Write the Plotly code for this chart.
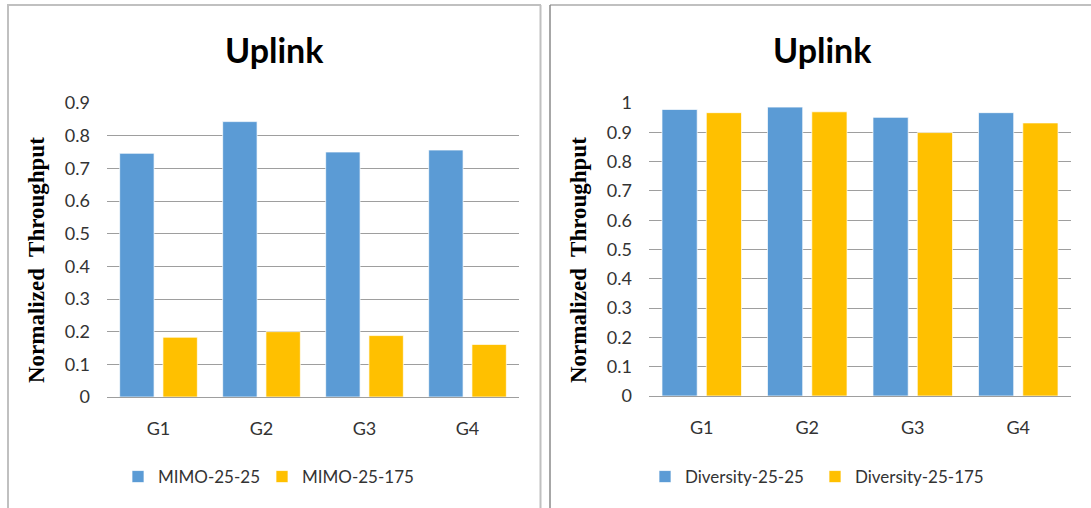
import plotly.graph_objects as go

# Data
groups = ["G1", "G2", "G3", "G4"]
mimo_25_25 = [0.746, 0.843, 0.750, 0.756]
mimo_25_175 = [0.183, 0.200, 0.188, 0.161]
div_25_25 = [0.978, 0.986, 0.951, 0.967]
div_25_175 = [0.967, 0.970, 0.899, 0.932]
left_ticks = [0, 0.1, 0.2, 0.3, 0.4, 0.5, 0.6, 0.7, 0.8, 0.9]
right_ticks = [0, 0.1, 0.2, 0.3, 0.4, 0.5, 0.6, 0.7, 0.8, 0.9, 1]

W, H = 1091, 508
BLUE = "#5B9BD5"
GOLD = "#FFC000"
GRID = "#9E9E9E"
TXT = "#333333"
SANS = "Lato"


def px(x):
    return x / W


def py(y):
    return 1 - y / H


fig = go.Figure()

edge = dict(color="rgba(255,255,255,0.7)", width=1)
fig.add_trace(go.Bar(x=groups, y=mimo_25_25, name="MIMO-25-25", marker=dict(color=BLUE, line=edge),
                     xaxis="x", yaxis="y", legend="legend"))
fig.add_trace(go.Bar(x=groups, y=mimo_25_175, name="MIMO-25-175", marker=dict(color=GOLD, line=edge),
                     xaxis="x", yaxis="y", legend="legend2"))
fig.add_trace(go.Bar(x=groups, y=div_25_25, name="Diversity-25-25", marker=dict(color=BLUE, line=edge),
                     xaxis="x2", yaxis="y2", legend="legend3"))
fig.add_trace(go.Bar(x=groups, y=div_25_175, name="Diversity-25-175", marker=dict(color=GOLD, line=edge),
                     xaxis="x2", yaxis="y2", legend="legend4"))

tickfont = dict(family=SANS, size=18, color=TXT)
xcommon = dict(type="category", showgrid=False, zeroline=False, showline=False, ticks="",
               tickfont=tickfont, ticklabelstandoff=19, fixedrange=True, automargin=False)
ycommon = dict(showgrid=True, gridcolor=GRID, gridwidth=1, zeroline=True, zerolinecolor=GRID,
               zerolinewidth=1, showline=False, ticks="", tickfont=tickfont, ticklabelstandoff=16,
               fixedrange=True, automargin=False)

legfont = dict(family=SANS, size=17, color=TXT)


def leg(x):
    return dict(x=x, y=py(477), xanchor="left", yanchor="middle", orientation="h",
                font=legfont, bgcolor="rgba(0,0,0,0)", borderwidth=0, itemwidth=30)


fig.update_layout(
    template="none",
    width=W, height=H,
    margin=dict(l=0, r=0, t=0, b=0, pad=0),
    paper_bgcolor="white", plot_bgcolor="white",
    font=dict(family=SANS, color=TXT),
    barmode="group", bargap=0.16, bargroupgap=0.205,
    showlegend=True,
    xaxis=dict(domain=[px(107), px(519)], anchor="y", **xcommon),
    yaxis=dict(domain=[py(397), py(103)], anchor="x", range=[0, 0.9], tickvals=left_ticks,
               ticktext=[f"{v:g}" for v in left_ticks], **ycommon),
    xaxis2=dict(domain=[px(649), px(1071)], anchor="y2", **xcommon),
    yaxis2=dict(domain=[py(396), py(103)], anchor="x2", range=[0, 1], tickvals=right_ticks,
                ticktext=[f"{v:g}" for v in right_ticks], **ycommon),
    legend=leg(px(118)),
    legend2=leg(px(262)),
    legend3=leg(px(645)),
    legend4=leg(px(815)),
)

# Panel titles and y-axis titles
for cx in (274, 822):
    fig.add_annotation(text="<b>Uplink</b>", x=px(cx), y=py(49), xref="paper", yref="paper",
                       xanchor="center", yanchor="middle", showarrow=False,
                       font=dict(family=SANS, size=34, color="black"))
for cx in (36, 578):
    fig.add_annotation(text="<b>Normalized  Throughput</b>", x=px(cx), y=py(260), xref="paper",
                       yref="paper", xanchor="center", yanchor="middle", textangle=-90,
                       showarrow=False,
                       font=dict(family="Liberation Serif", size=23, color="black"))

# Chart frames
frame_light = dict(color="#C0C0C0", width=2)
frame_dark = dict(color="#8A8A8A", width=1.5)
shapes = [
    dict(type="line", x0=px(7), x1=px(541), y0=py(5), y1=py(5), line=frame_light),
    dict(type="line", x0=px(8), x1=px(8), y0=py(5), y1=py(508), line=frame_light),
    dict(type="line", x0=px(540.5), x1=px(540.5), y0=py(5), y1=py(508), line=frame_light),
    dict(type="line", x0=px(550), x1=px(1091), y0=py(5), y1=py(5), line=frame_light),
    dict(type="line", x0=px(550), x1=px(550), y0=py(5), y1=py(508), line=frame_dark),
]
for s in shapes:
    s.update(xref="paper", yref="paper")
fig.update_layout(shapes=shapes)

fig.write_html("out.html")
